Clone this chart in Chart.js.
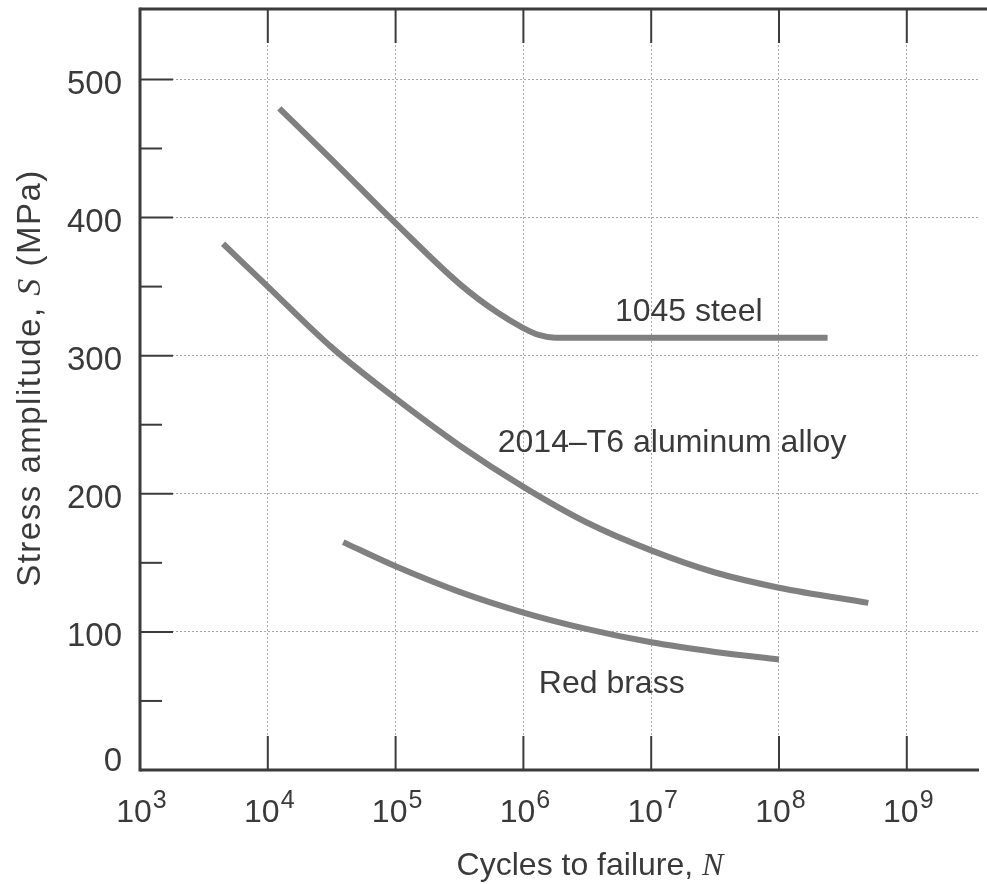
<!DOCTYPE html>
<html><head><meta charset="utf-8">
<script src="https://cdn.jsdelivr.net/npm/chart.js@4/dist/chart.umd.min.js"></script>
<style>html,body{margin:0;padding:0;background:#fff}#wrap{width:987px;height:884px;position:relative}</style>
</head><body><div id="wrap"><canvas id="c"></canvas></div>
<script>
// ---- data ----
const steelN = [12300, 31623, 100000, 316228, 630957, 1000000, 1318257, 1778279, 10000000, 240000000];
const steelS = [479, 442, 396, 352, 331, 320, 315, 313, 313, 313];
const alN = [4467, 10000, 31623, 100000, 316228, 1000000, 3162278, 10000000, 31622777, 100000000, 500000000];
const alS = [381, 350, 306, 269, 235, 205, 179, 159, 143, 132, 121];
const brassN = [38900, 100000, 316228, 1000000, 3162278, 10000000, 31622777, 100000000];
const brassS = [165, 147.5, 129, 114, 102, 92.5, 85.5, 80];
const xTickVals = [1e3, 1e4, 1e5, 1e6, 1e7, 1e8, 1e9];
const xTickExp = ['3', '4', '5', '6', '7', '8', '9'];
const yTickVals = [0, 100, 200, 300, 400, 500];
const yMinorVals = [50, 150, 250, 350, 450];
const seriesNames = ['1045 steel', '2014–T6 aluminum alloy', 'Red brass'];
const labelN = [5.2e6, 6.3e5, 1.32e6];
const labelS = [325, 230, 56];
const xMin = 1e3, xMax = 3.673e9, yMin = 0, yMax = 551;

const pts = (n, s) => n.map((v, i) => ({x: v, y: s[i]}));
const curveColor = '#808080', frameColor = '#3b3b3b', textColor = '#3a3a3a', gridColor = '#a8a8a8';
const sans = '"Liberation Sans", Arial, sans-serif';
const serif = '"Liberation Serif", "Times New Roman", serif';

const decor = {
  id: 'decor',
  afterDraw(chart) {
    const {ctx, chartArea: a, scales: {x, y}} = chart;
    ctx.save();
    const line = (x1, y1, x2, y2) => { ctx.beginPath(); ctx.moveTo(x1, y1); ctx.lineTo(x2, y2); ctx.stroke(); };
    ctx.strokeStyle = frameColor;
    ctx.lineWidth = 2;
    yTickVals.forEach(v => { const p = y.getPixelForValue(v); line(a.left, p, a.left + 33, p); });
    yMinorVals.forEach(v => { const p = y.getPixelForValue(v); line(a.left, p, a.left + 22, p); });
    xTickVals.slice(1).forEach(v => {
      const p = x.getPixelForValue(v);
      line(p, a.bottom, p, a.bottom - 34);
      line(p, a.top, p, a.top + 34);
    });
    ctx.lineWidth = 3;
    line(a.left, a.top - 1.5, a.left, a.bottom + 1.5);
    line(a.left, a.top, a.right + 8, a.top);
    line(a.left, a.bottom, a.right, a.bottom);

    ctx.fillStyle = textColor;
    // y tick labels
    ctx.font = '33px ' + sans;
    ctx.textAlign = 'right';
    ctx.textBaseline = 'middle';
    yTickVals.forEach(v => {
      const p = y.getPixelForValue(v) + (v === 0 ? -8 : 5);
      ctx.fillText(String(v), a.left - 18, p);
    });
    // x tick labels with superscripts
    ctx.textBaseline = 'alphabetic';
    ctx.textAlign = 'left';
    xTickVals.forEach((v, i) => {
      const p = x.getPixelForValue(v);
      ctx.font = '32px ' + sans;
      const wb = ctx.measureText('10').width;
      ctx.font = '25px ' + sans;
      const we = ctx.measureText(xTickExp[i]).width;
      const x0 = p - (wb + we) / 2 + 1;
      ctx.font = '32px ' + sans;
      ctx.fillText('10', x0, a.bottom + 52);
      ctx.font = '25px ' + sans;
      ctx.fillText(xTickExp[i], x0 + wb + 1, a.bottom + 38);
    });
    // x title
    ctx.font = '32px ' + sans;
    const t1 = 'Cycles to failure, ';
    const w1 = ctx.measureText(t1).width;
    ctx.font = 'italic 32px ' + serif;
    const w2 = ctx.measureText('N').width;
    let xs = 590 - (w1 + w2) / 2;
    ctx.font = '32px ' + sans;
    ctx.fillText(t1, xs, 875);
    ctx.font = 'italic 32px ' + serif;
    ctx.fillText('N', xs + w1, 875);
    // y title (rotated)
    ctx.save();
    ctx.translate(40, 378);
    ctx.rotate(-Math.PI / 2);
    ctx.letterSpacing = '1.5px';
    const parts = [['Stress amplitude, ', '33px ' + sans], ['S', 'italic 34px ' + serif], [' (MPa)', '33px ' + sans]];
    let tot = 0;
    parts.forEach(pt => { ctx.font = pt[1]; pt.push(ctx.measureText(pt[0]).width); tot += pt[2]; });
    let cx = -tot / 2;
    parts.forEach(pt => { ctx.font = pt[1]; ctx.fillText(pt[0], cx, 0); cx += pt[2]; });
    ctx.restore();
    // curve labels
    ctx.font = '32px ' + sans;
    ctx.textAlign = 'left';
    seriesNames.forEach((s, i) => {
      ctx.fillText(s, x.getPixelForValue(labelN[i]), y.getPixelForValue(labelS[i]));
    });
    ctx.restore();
  }
};

const ds = (n, s, label) => ({
  label, data: pts(n, s), showLine: true, borderColor: curveColor, borderWidth: 6,
  pointRadius: 0, cubicInterpolationMode: 'monotone', borderCapStyle: 'butt', fill: false
});

new Chart(document.getElementById('c'), {
  type: 'scatter',
  data: { datasets: [ds(steelN, steelS, seriesNames[0]), ds(alN, alS, seriesNames[1]), ds(brassN, brassS, seriesNames[2])] },
  options: {
    responsive: true, maintainAspectRatio: false, animation: false,
    layout: { padding: { top: 9, right: 8, left: 0, bottom: 0 } },
    plugins: { legend: { display: false }, tooltip: { enabled: false } },
    scales: {
      x: {
        type: 'logarithmic', min: xMin, max: xMax,
        afterBuildTicks: s => { s.ticks = xTickVals.map(v => ({value: v})); },
        afterFit: s => { s.height = 114; },
        ticks: { display: false },
        grid: { color: gridColor, lineWidth: 1, drawTicks: false },
        border: { display: false, dash: [2, 2] }
      },
      y: {
        type: 'linear', min: yMin, max: yMax,
        afterBuildTicks: s => { s.ticks = yTickVals.map(v => ({value: v})); },
        afterFit: s => { s.width = 140; },
        ticks: { display: false },
        grid: { color: gridColor, lineWidth: 1, drawTicks: false },
        border: { display: false, dash: [2, 2] }
      }
    }
  },
  plugins: [decor]
});
</script></body></html>
